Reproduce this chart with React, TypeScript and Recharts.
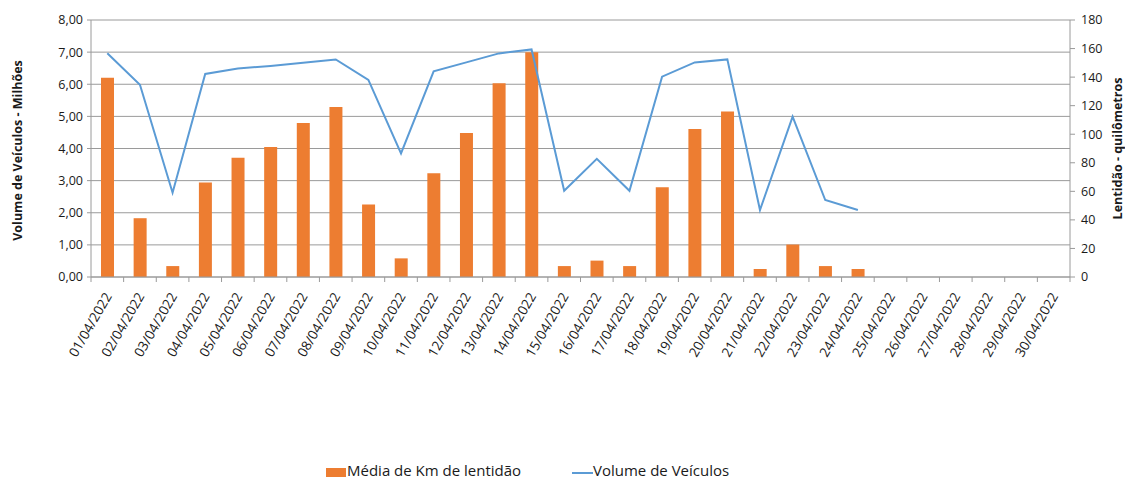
import React from 'react';
import { ComposedChart, Bar, Line, XAxis, YAxis, CartesianGrid, Legend } from 'recharts';

const categories = [
  '01/04/2022','02/04/2022','03/04/2022','04/04/2022','05/04/2022','06/04/2022','07/04/2022','08/04/2022','09/04/2022','10/04/2022',
  '11/04/2022','12/04/2022','13/04/2022','14/04/2022','15/04/2022','16/04/2022','17/04/2022','18/04/2022','19/04/2022','20/04/2022',
  '21/04/2022','22/04/2022','23/04/2022','24/04/2022','25/04/2022','26/04/2022','27/04/2022','28/04/2022','29/04/2022','30/04/2022',
];
const kmLentidao: (number | null)[] = [
  6.2, 1.83, 0.34, 2.94, 3.71, 4.05, 4.79, 5.29, 2.26, 0.58,
  3.23, 4.48, 6.03, 7.0, 0.34, 0.51, 0.34, 2.79, 4.61, 5.15,
  0.25, 1.01, 0.34, 0.25, null, null, null, null, null, null,
];
const volumeVeiculos: (number | null)[] = [
  156.7, 134.7, 59, 142.2, 146.1, 147.8, 150, 152.4, 138, 86.6,
  144, 150.3, 156.6, 159.4, 60.4, 82.8, 60.4, 140.3, 150.3, 152.4,
  46.9, 112.3, 53.9, 46.9, null, null, null, null, null, null,
];
const leftTicks = [0, 1, 2, 3, 4, 5, 6, 7, 8];
const rightTicks = [0, 20, 40, 60, 80, 100, 120, 140, 160, 180];

const data = categories.map((c, i) => ({ date: c, km: kmLentidao[i], vol: volumeVeiculos[i] }));

const FONT = '"Open Sans", sans-serif';
const GRID = '#9a9a9a';
const TXT = '#1a1a1a';

const XTick = (props: any) => {
  const { x, y, payload, index } = props;
  const half = payload && payload.offset ? payload.offset : 16.3;
  const ax = x + 5;
  const ay = y + 19;
  return (
    <g>
      <line x1={x - half} y1={y} x2={x - half} y2={y + 5} stroke={GRID} strokeWidth={1} />
      {index === categories.length - 1 && (
        <line x1={x + half} y1={y} x2={x + half} y2={y + 5} stroke={GRID} strokeWidth={1} />
      )}
      <text x={ax} y={ay} textAnchor="end" fontSize={13.5} fontFamily={FONT} fill={TXT}
        transform={`rotate(-60, ${ax}, ${ay})`}>{payload.value}</text>
    </g>
  );
};

const LeftLabel = (props: any) => {
  const vb = props.viewBox || { x: 0, y: 20, width: 91, height: 257 };
  const cx = 17;
  const cy = vb.y + vb.height / 2 + 2;
  return (
    <text x={cx} y={cy} textAnchor="middle" dominantBaseline="central" fontSize={12.5} fontWeight="bold"
      fontFamily={FONT} fill={TXT} transform={`rotate(-90, ${cx}, ${cy})`}>
      Volume de Veículos  -  Milhões
    </text>
  );
};

const RightLabel = (props: any) => {
  const vb = props.viewBox || { x: 1070, y: 20, width: 55, height: 257 };
  const cx = 1117;
  const cy = vb.y + vb.height / 2;
  return (
    <text x={cx} y={cy} textAnchor="middle" dominantBaseline="central" fontSize={12.5} fontWeight="bold"
      fontFamily={FONT} fill={TXT} transform={`rotate(-90, ${cx}, ${cy})`}>
      Lentidão - quilômetros
    </text>
  );
};

const LegendContent = () => (
  <div style={{ position: 'relative', width: 1125, height: 20, fontFamily: FONT, fontSize: 15, color: TXT }}>
    <div style={{ position: 'absolute', left: 326, top: 9, width: 20, height: 9, background: '#ED7D31' }} />
    <div style={{ position: 'absolute', left: 347, top: 1, whiteSpace: 'nowrap' }}>Média de Km de lentidão</div>
    <div style={{ position: 'absolute', left: 572, top: 13, width: 21, height: 2, background: '#5B9BD5' }} />
    <div style={{ position: 'absolute', left: 593, top: 1, whiteSpace: 'nowrap' }}>Volume de Veículos</div>
  </div>
);

export default function App() {
  return (
    <div style={{ position: 'absolute', left: 0, top: 0, width: 1125, height: 479, background: '#fff' }}>
      <ComposedChart width={1125} height={479} data={data} margin={{ top: 20, right: 0, bottom: 0, left: 0 }}
        style={{ fontFamily: FONT }}>
        <CartesianGrid yAxisId="left" vertical={false} stroke={GRID} strokeWidth={1} />
        <XAxis dataKey="date" height={182} interval={0} tickLine={false} tickSize={0} tickMargin={0}
          axisLine={{ stroke: GRID }} tick={<XTick />} />
        <YAxis yAxisId="left" orientation="left" width={91} domain={[0, 8]} ticks={leftTicks}
          tickFormatter={(v: number) => v.toFixed(2).replace('.', ',')}
          tick={{ fontSize: 12.5, fill: TXT, fontFamily: FONT }} tickSize={4} tickMargin={4}
          tickLine={{ stroke: GRID }} axisLine={{ stroke: GRID }} label={<LeftLabel />} />
        <YAxis yAxisId="right" orientation="right" width={55} domain={[0, 180]} ticks={rightTicks}
          tick={{ fontSize: 12.5, fill: TXT, fontFamily: FONT, textAnchor: 'start' }} tickSize={5} tickMargin={6}
          tickLine={{ stroke: GRID }} axisLine={{ stroke: GRID }} label={<RightLabel />} />
        <Legend verticalAlign="bottom" height={20} content={<LegendContent />}
          wrapperStyle={{ left: 0, width: 1125 }} />
        <Bar yAxisId="left" dataKey="km" name="Média de Km de lentidão" fill="#ED7D31" barSize={13}
          isAnimationActive={false} />
        <Line yAxisId="right" dataKey="vol" name="Volume de Veículos" stroke="#5B9BD5" strokeWidth={2}
          dot={false} activeDot={false} connectNulls={false} isAnimationActive={false} />
      </ComposedChart>
    </div>
  );
}
